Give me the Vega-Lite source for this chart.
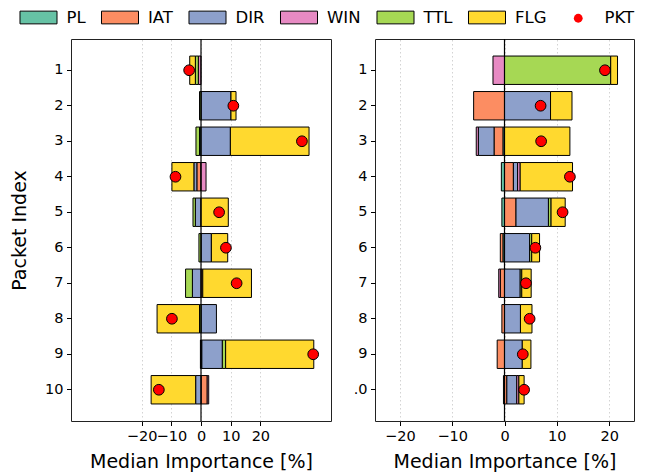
{
  "$schema": "https://vega.github.io/schema/vega-lite/v6.json",
  "padding": {"left": 10, "top": 5, "right": 0, "bottom": 0},
  "autosize": {"type": "pad"},
  "spacing": 44,
  "bounds": "flush",
  "config": {
    "font": "DejaVu Sans",
    "view": {"stroke": "#222222", "strokeWidth": 1},
    "axis": {
      "labelFont": "DejaVu Sans", "titleFont": "DejaVu Sans",
      "labelFontSize": 14.5, "titleFontSize": 19, "titleFontWeight": "normal",
      "labelColor": "black", "titleColor": "black",
      "tickColor": "black", "tickSize": 4.5, "tickWidth": 1, "domain": false
    },
    "legend": {
      "orient": "none", "direction": "horizontal",
      "labelFont": "DejaVu Sans", "labelFontSize": 16.5, "labelColor": "black",
      "columnPadding": 12.5, "gridAlign": "each"
    }
  },
  "datasets": {
    "barsL": [
      {"idx": 1, "feat": "WIN", "k": 4, "v": -0.9}, {"idx": 1, "feat": "TTL", "k": 5, "v": -1.0}, {"idx": 1, "feat": "FLG", "k": 6, "v": -1.9},
      {"idx": 2, "feat": "DIR", "k": 3, "v": 10.1}, {"idx": 2, "feat": "TTL", "k": 5, "v": -0.5}, {"idx": 2, "feat": "FLG", "k": 6, "v": 1.7},
      {"idx": 3, "feat": "PL", "k": 1, "v": -0.5}, {"idx": 3, "feat": "DIR", "k": 3, "v": 9.9}, {"idx": 3, "feat": "TTL", "k": 5, "v": -1.2}, {"idx": 3, "feat": "FLG", "k": 6, "v": 26.5},
      {"idx": 4, "feat": "IAT", "k": 2, "v": -1.4}, {"idx": 4, "feat": "DIR", "k": 3, "v": -1.0}, {"idx": 4, "feat": "WIN", "k": 4, "v": 1.7}, {"idx": 4, "feat": "FLG", "k": 6, "v": -7.4},
      {"idx": 5, "feat": "DIR", "k": 3, "v": -1.9}, {"idx": 5, "feat": "TTL", "k": 5, "v": -0.8}, {"idx": 5, "feat": "FLG", "k": 6, "v": 9.2},
      {"idx": 6, "feat": "DIR", "k": 3, "v": 3.5}, {"idx": 6, "feat": "TTL", "k": 5, "v": -0.7}, {"idx": 6, "feat": "FLG", "k": 6, "v": 5.5},
      {"idx": 7, "feat": "IAT", "k": 2, "v": 0.6}, {"idx": 7, "feat": "DIR", "k": 3, "v": -2.9}, {"idx": 7, "feat": "TTL", "k": 5, "v": -2.3}, {"idx": 7, "feat": "FLG", "k": 6, "v": 16.4},
      {"idx": 8, "feat": "DIR", "k": 3, "v": 5.2}, {"idx": 8, "feat": "TTL", "k": 5, "v": -0.5}, {"idx": 8, "feat": "FLG", "k": 6, "v": -14.3},
      {"idx": 9, "feat": "PL", "k": 1, "v": 0.3}, {"idx": 9, "feat": "IAT", "k": 2, "v": -0.2}, {"idx": 9, "feat": "DIR", "k": 3, "v": 6.9}, {"idx": 9, "feat": "TTL", "k": 5, "v": 1.1}, {"idx": 9, "feat": "FLG", "k": 6, "v": 29.7},
      {"idx": 10, "feat": "IAT", "k": 2, "v": 2.1}, {"idx": 10, "feat": "DIR", "k": 3, "v": -1.8}, {"idx": 10, "feat": "WIN", "k": 4, "v": 0.5}, {"idx": 10, "feat": "FLG", "k": 6, "v": -15.0}
    ],
    "pktL": [
      {"idx": 1, "pkt": -4.0}, {"idx": 2, "pkt": 10.9}, {"idx": 3, "pkt": 34.0}, {"idx": 4, "pkt": -8.6}, {"idx": 5, "pkt": 6.1},
      {"idx": 6, "pkt": 8.4}, {"idx": 7, "pkt": 12.0}, {"idx": 8, "pkt": -9.8}, {"idx": 9, "pkt": 37.8}, {"idx": 10, "pkt": -14.2}
    ],
    "barsR": [
      {"idx": 1, "feat": "WIN", "k": 4, "v": -2.2}, {"idx": 1, "feat": "TTL", "k": 5, "v": 20.3}, {"idx": 1, "feat": "FLG", "k": 6, "v": 1.3},
      {"idx": 2, "feat": "IAT", "k": 2, "v": -5.9}, {"idx": 2, "feat": "DIR", "k": 3, "v": 8.8}, {"idx": 2, "feat": "FLG", "k": 6, "v": 4.1},
      {"idx": 3, "feat": "PL", "k": 1, "v": -0.3}, {"idx": 3, "feat": "IAT", "k": 2, "v": -1.7}, {"idx": 3, "feat": "DIR", "k": 3, "v": -3.0}, {"idx": 3, "feat": "WIN", "k": 4, "v": -0.4}, {"idx": 3, "feat": "FLG", "k": 6, "v": 12.5},
      {"idx": 4, "feat": "PL", "k": 1, "v": -0.6}, {"idx": 4, "feat": "IAT", "k": 2, "v": 1.7}, {"idx": 4, "feat": "DIR", "k": 3, "v": 0.8}, {"idx": 4, "feat": "WIN", "k": 4, "v": 0.5}, {"idx": 4, "feat": "FLG", "k": 6, "v": 10.0},
      {"idx": 5, "feat": "PL", "k": 1, "v": -0.5}, {"idx": 5, "feat": "IAT", "k": 2, "v": 2.2}, {"idx": 5, "feat": "DIR", "k": 3, "v": 6.2}, {"idx": 5, "feat": "TTL", "k": 5, "v": 0.5}, {"idx": 5, "feat": "FLG", "k": 6, "v": 2.7},
      {"idx": 6, "feat": "PL", "k": 1, "v": -0.3}, {"idx": 6, "feat": "IAT", "k": 2, "v": -0.5}, {"idx": 6, "feat": "DIR", "k": 3, "v": 4.8}, {"idx": 6, "feat": "TTL", "k": 5, "v": 0.4}, {"idx": 6, "feat": "FLG", "k": 6, "v": 1.5},
      {"idx": 7, "feat": "IAT", "k": 2, "v": -0.8}, {"idx": 7, "feat": "DIR", "k": 3, "v": 3.0}, {"idx": 7, "feat": "WIN", "k": 4, "v": -0.3}, {"idx": 7, "feat": "TTL", "k": 5, "v": 0.3}, {"idx": 7, "feat": "FLG", "k": 6, "v": 1.8},
      {"idx": 8, "feat": "IAT", "k": 2, "v": -0.5}, {"idx": 8, "feat": "DIR", "k": 3, "v": 3.05}, {"idx": 8, "feat": "FLG", "k": 6, "v": 2.2},
      {"idx": 9, "feat": "IAT", "k": 2, "v": -1.4}, {"idx": 9, "feat": "DIR", "k": 3, "v": 3.4}, {"idx": 9, "feat": "FLG", "k": 6, "v": 1.65},
      {"idx": 10, "feat": "PL", "k": 1, "v": -0.2}, {"idx": 10, "feat": "IAT", "k": 2, "v": 0.45}, {"idx": 10, "feat": "DIR", "k": 3, "v": 1.9}, {"idx": 10, "feat": "WIN", "k": 4, "v": 0.4}, {"idx": 10, "feat": "FLG", "k": 6, "v": 1.0}
    ],
    "pktR": [
      {"idx": 1, "pkt": 19.2}, {"idx": 2, "pkt": 6.9}, {"idx": 3, "pkt": 7.0}, {"idx": 4, "pkt": 12.5}, {"idx": 5, "pkt": 11.1},
      {"idx": 6, "pkt": 5.9}, {"idx": 7, "pkt": 4.1}, {"idx": 8, "pkt": 4.8}, {"idx": 9, "pkt": 3.5}, {"idx": 10, "pkt": 3.75}
    ]
  },
  "hconcat": [
    {
      "width": 260, "height": 382,
      "layer": [
        {
          "data": {"name": "barsL"},
          "mark": {"type": "bar", "stroke": "black", "strokeWidth": 1},
          "encoding": {
            "y": {"field": "idx", "type": "ordinal", "scale": {"paddingInner": 0.2, "paddingOuter": 0.48},
                  "axis": {"title": "Packet Index", "titlePadding": 15, "labelPadding": 3.5, "labelAngle": 0, "grid": false}},
            "x": {"field": "v", "type": "quantitative", "stack": "zero", "title": "Median Importance [%]",
                  "scale": {"domain": [-43.8, 43.8], "nice": false, "zero": false},
                  "axis": {"values": [-20, -10, 0, 10, 20], "labelOverlap": false, "grid": true, "gridColor": "#c8c8c8", "gridDash": [1.5, 2.5], "gridWidth": 0.8, "labelPadding": 4, "titlePadding": 9}},
            "color": {"field": "feat", "type": "nominal",
                      "scale": {"domain": ["PL", "IAT", "DIR", "WIN", "TTL", "FLG"],
                                "range": ["#66c2a5", "#fc8d62", "#8da0cb", "#e78ac3", "#a6d854", "#ffd92f"]},
                      "legend": {"title": null, "orient": "none", "legendX": -45, "legendY": -34, "direction": "horizontal",
                                 "symbolType": "M-1.6,-0.55H1.6V0.55H-1.6Z", "symbolSize": 535,
                                 "symbolStrokeColor": "black", "symbolStrokeWidth": 1,
                                 "labelOffset": 15.5, "columnPadding": 12.5, "gridAlign": "each"}},
            "order": {"field": "k", "type": "quantitative", "sort": "ascending"}
          }
        },
        {
          "data": {"values": [{}]},
          "mark": {"type": "rule", "color": "black", "strokeWidth": 1.2},
          "encoding": {"x": {"datum": 0}}
        },
        {
          "data": {"name": "pktL"},
          "mark": {"type": "point", "filled": true, "fill": "#ff0000", "size": 115, "stroke": "black", "strokeWidth": 1, "opacity": 1},
          "encoding": {
            "x": {"field": "pkt", "type": "quantitative", "title": "Median Importance [%]"},
            "y": {"field": "idx", "type": "ordinal", "title": "Packet Index"},
            "shape": {"datum": "PKT", "scale": {"domain": ["PKT"], "range": ["circle"]},
                      "legend": {"title": null, "orient": "none", "legendX": 499, "legendY": -29, "direction": "horizontal",
                                 "symbolSize": 78, "symbolFillColor": "#ff0000", "symbolStrokeColor": "black", "symbolStrokeWidth": 1,
                                 "labelOffset": 18}}
          }
        }
      ]
    },
    {
      "width": 259, "height": 382,
      "layer": [
        {
          "data": {"name": "barsR"},
          "mark": {"type": "bar", "stroke": "black", "strokeWidth": 1},
          "encoding": {
            "y": {"field": "idx", "type": "ordinal", "scale": {"paddingInner": 0.2, "paddingOuter": 0.48},
                  "axis": {"title": null, "labelPadding": 3.5, "labelAngle": 0, "grid": false,
                           "labelExpr": "datum.value == 10 ? '.0' : datum.label"}},
            "x": {"field": "v", "type": "quantitative", "stack": "zero", "title": "Median Importance [%]",
                  "scale": {"domain": [-24.75, 24.75], "nice": false, "zero": false},
                  "axis": {"values": [-20, -10, 0, 10, 20], "labelOverlap": false, "grid": true, "gridColor": "#c8c8c8", "gridDash": [1.5, 2.5], "gridWidth": 0.8, "labelPadding": 4, "titlePadding": 9}},
            "color": {"field": "feat", "type": "nominal",
                      "scale": {"domain": ["PL", "IAT", "DIR", "WIN", "TTL", "FLG"],
                                "range": ["#66c2a5", "#fc8d62", "#8da0cb", "#e78ac3", "#a6d854", "#ffd92f"]},
                      "legend": {"title": null, "orient": "none", "legendX": -45, "legendY": -34, "direction": "horizontal",
                                 "symbolType": "M-1.6,-0.55H1.6V0.55H-1.6Z", "symbolSize": 535,
                                 "symbolStrokeColor": "black", "symbolStrokeWidth": 1,
                                 "labelOffset": 15.5, "columnPadding": 12.5, "gridAlign": "each"}},
            "order": {"field": "k", "type": "quantitative", "sort": "ascending"}
          }
        },
        {
          "data": {"values": [{}]},
          "mark": {"type": "rule", "color": "black", "strokeWidth": 1.2},
          "encoding": {"x": {"datum": 0}}
        },
        {
          "data": {"name": "pktR"},
          "mark": {"type": "point", "filled": true, "fill": "#ff0000", "size": 115, "stroke": "black", "strokeWidth": 1, "opacity": 1},
          "encoding": {
            "x": {"field": "pkt", "type": "quantitative", "title": "Median Importance [%]"},
            "y": {"field": "idx", "type": "ordinal", "title": null},
            "shape": {"datum": "PKT", "scale": {"domain": ["PKT"], "range": ["circle"]},
                      "legend": {"title": null, "orient": "none", "legendX": 499, "legendY": -29, "direction": "horizontal",
                                 "symbolSize": 78, "symbolFillColor": "#ff0000", "symbolStrokeColor": "black", "symbolStrokeWidth": 1,
                                 "labelOffset": 18}}
          }
        }
      ]
    }
  ]
}
